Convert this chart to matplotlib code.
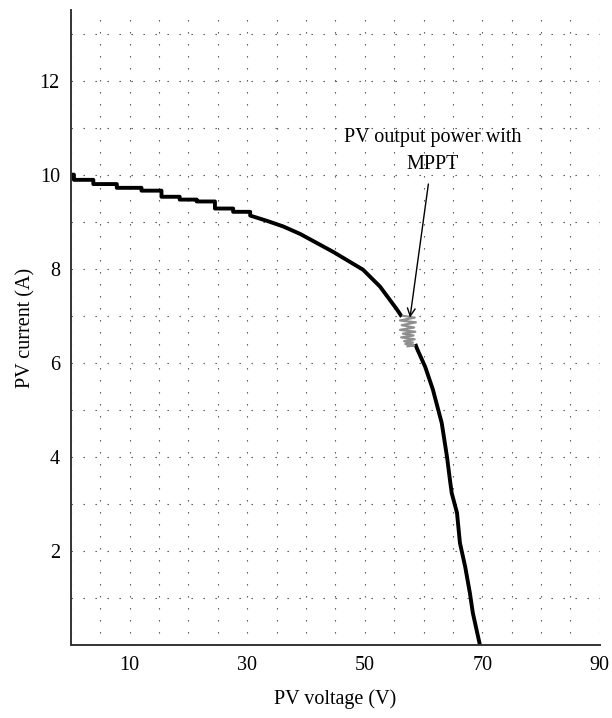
import numpy as np
import matplotlib
matplotlib.use('Agg')
import matplotlib.pyplot as plt
from matplotlib.ticker import MultipleLocator

plt.rcParams['font.family'] = ['Liberation Serif', 'DejaVu Serif']

# I-V curve, upper branch (before the MPPT zone)
voltUpper = [0, 0.5, 0.5, 3.8, 3.8, 7.8, 7.8, 12.0, 12.0, 15.4, 15.4, 18.5, 18.5,
             21.4, 21.4, 24.5, 24.5, 27.6, 27.6, 30.5, 30.5, 33.3, 36.1, 39.0,
             44.6, 49.7, 52.6, 55.5, 56.3]
currUpper = [10.0, 10.0, 9.89, 9.89, 9.80, 9.80, 9.72, 9.72, 9.66, 9.66, 9.53, 9.53,
             9.47, 9.47, 9.43, 9.43, 9.28, 9.28, 9.21, 9.21, 9.13, 9.02, 8.90, 8.74,
             8.36, 7.98, 7.62, 7.13, 6.98]
# lower branch (after the MPPT zone)
voltLower = [58.6, 58.9, 60.3, 61.6, 63.1, 64.0, 64.5, 64.8, 65.7, 66.2, 67.1,
             67.9, 68.4, 69.3, 69.6]
currLower = [6.40, 6.30, 5.91, 5.43, 4.72, 4.00, 3.51, 3.23, 2.81, 2.17, 1.66,
             1.10, 0.68, 0.17, 0.0]

# operating points jittering around the MPP
mpptVolt = [56.5, 58.5, 56.0, 58.7, 56.3, 58.4, 56.0, 58.6, 56.5, 58.3, 56.2,
            58.5, 56.7, 58.2, 56.9, 58.4, 57.3]
mpptCurr = [7.00, 6.96, 6.90, 6.86, 6.80, 6.75, 6.70, 6.66, 6.62, 6.58, 6.54,
            6.50, 6.46, 6.43, 6.40, 6.37, 6.35]

xTicks = [10, 30, 50, 70, 90]
yTicks = [2, 4, 6, 8, 10, 12]

fig = plt.figure(figsize=(6.12, 7.18), dpi=100)
ax = fig.add_axes([0.116, 0.1017, 0.864, 0.8843])

ax.plot(voltUpper, currUpper, color='black', lw=2.8, solid_capstyle='butt')
ax.plot(voltLower, currLower, color='black', lw=2.8, solid_capstyle='butt')
ax.plot(mpptVolt, mpptCurr, color='#8f8f8f', lw=1.6)

ax.annotate('PV output power with\nMPPT', xy=(57.7, 6.96), xytext=(61.6, 10.5),
            ha='center', va='center', fontsize=14.5, linespacing=1.6,
            arrowprops=dict(arrowstyle='->', color='black', lw=1.0,
                            shrinkA=5, shrinkB=0, mutation_scale=14))

ax.set_xlim(0, 90)
ax.set_ylim(0, 13.5)
ax.set_xticks(xTicks)
ax.set_yticks(yTicks)
ax.xaxis.set_minor_locator(MultipleLocator(5))
ax.yaxis.set_minor_locator(MultipleLocator(1))
ax.tick_params(which='both', length=0, labelsize=14.5, pad=8)

ax.grid(True, which='both', color='#444444', lw=0.8, linestyle=(0, (1.2, 9.6)))
ax.set_axisbelow(True)

for s in ['top', 'right']:
    ax.spines[s].set_visible(False)
for s in ['left', 'bottom']:
    ax.spines[s].set_color('#333333')
    ax.spines[s].set_linewidth(1.4)

ax.set_xlabel('PV voltage (V)', fontsize=14.5, labelpad=10)
ax.set_ylabel('PV current (A)', fontsize=14.5, labelpad=3)

fig.savefig('out.png', dpi=100)
